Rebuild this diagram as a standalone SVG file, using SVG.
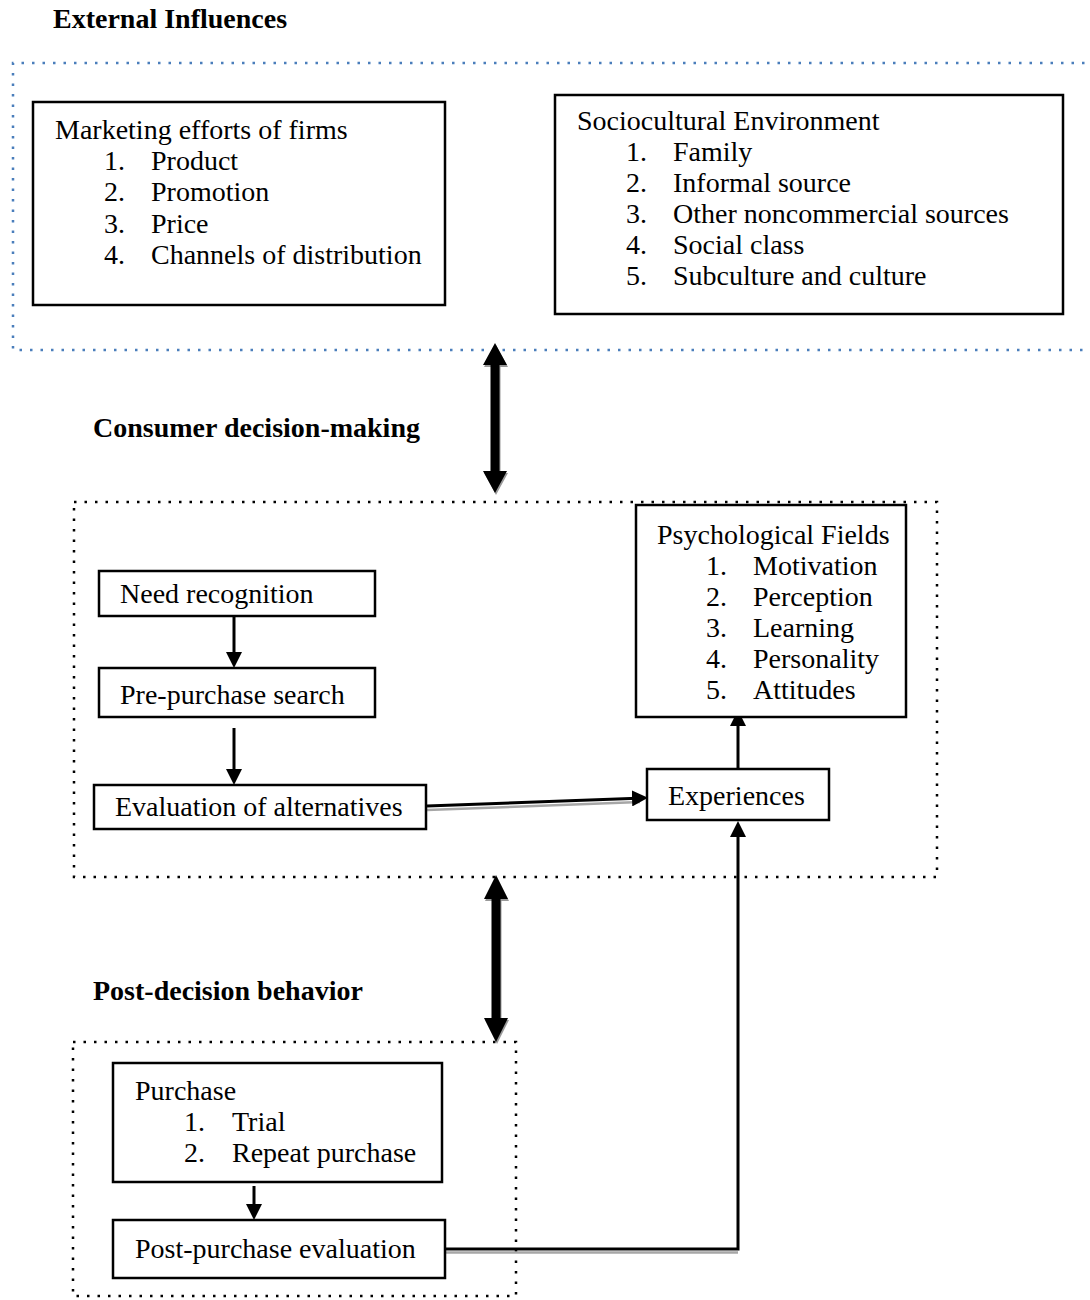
<svg xmlns="http://www.w3.org/2000/svg" width="1090" height="1300" viewBox="0 0 1090 1300">
<defs>
<style>
.t{font-family:"Liberation Serif","Times New Roman",serif;font-size:28px;fill:#000}
.h{font-weight:bold}
.box{fill:#fff;stroke:#000;stroke-width:2.5}
.dot{fill:none;stroke:#000;stroke-width:2.5;stroke-dasharray:2.5 8}
.bdot{fill:none;stroke:#4a7ebb;stroke-width:2.5;stroke-dasharray:2.5 8}
.ln{fill:none;stroke:#000;stroke-width:3}
.sh{fill:none;stroke:#a6a6a6;stroke-width:2.5}
</style>
<marker id="ah" markerUnits="userSpaceOnUse" markerWidth="16" markerHeight="16" viewBox="0 0 16 16" refX="12" refY="8" orient="auto">
<path d="M0,0 L16,8 L0,16 z" fill="#000"/>
</marker>
</defs>
<rect width="1090" height="1300" fill="#fff"/>

<g id="frames">
<path class="bdot" d="M1095,63 H13 V350 H1095"/>
<rect class="dot" x="74" y="502" width="863" height="375"/>
<rect class="dot" x="73" y="1042" width="443" height="254"/>
</g>

<g id="headings">
<text class="t h" x="53" y="28">External Influences</text>
<text class="t h" x="93" y="437">Consumer decision-making</text>
<text class="t h" x="93" y="1000">Post-decision behavior</text>
</g>

<g id="connectors">
<polygon fill="#999" transform="translate(1,2)" points="495,343 507,365 499.5,365 499.5,471 507,471 495,493 483,471 490.5,471 490.5,365 483,365"/>
<polygon fill="#000" points="495,343 507,365 499.5,365 499.5,471 507,471 495,493 483,471 490.5,471 490.5,365 483,365"/>
<polygon fill="#999" transform="translate(1,2)" points="496,875 508,899 500.5,899 500.5,1018 508,1018 496,1042 484,1018 491.5,1018 491.5,899 484,899"/>
<polygon fill="#000" points="496,875 508,899 500.5,899 500.5,1018 508,1018 496,1042 484,1018 491.5,1018 491.5,899 484,899"/>
<line class="ln" x1="234" y1="616" x2="234" y2="664" marker-end="url(#ah)"/>
<line class="ln" x1="234" y1="728" x2="234" y2="781" marker-end="url(#ah)"/>
<line class="sh" x1="427" y1="810" x2="640" y2="802"/>
<line class="ln" x1="427" y1="806" x2="644" y2="798" marker-end="url(#ah)"/>
<line class="ln" x1="738" y1="768" x2="738" y2="714" marker-end="url(#ah)"/>
<line class="ln" x1="254" y1="1186" x2="254" y2="1216" marker-end="url(#ah)"/>
<line class="sh" x1="445" y1="1252.5" x2="738" y2="1252.5"/>
<polyline class="ln" points="445,1249 738,1249 738,825" marker-end="url(#ah)"/>
</g>

<g id="marketing">
<rect class="box" x="33" y="102" width="412" height="203"/>
<text class="t" x="55" y="139">Marketing efforts of firms</text>
<text class="t" x="104" y="170">1.</text><text class="t" x="151" y="170">Product</text>
<text class="t" x="104" y="201">2.</text><text class="t" x="151" y="201">Promotion</text>
<text class="t" x="104" y="233">3.</text><text class="t" x="151" y="233">Price</text>
<text class="t" x="104" y="264">4.</text><text class="t" x="151" y="264">Channels of distribution</text>
</g>

<g id="sociocultural">
<rect class="box" x="555" y="95" width="508" height="219"/>
<text class="t" x="577" y="130">Sociocultural Environment</text>
<text class="t" x="626" y="161">1.</text><text class="t" x="673" y="161">Family</text>
<text class="t" x="626" y="192">2.</text><text class="t" x="673" y="192">Informal source</text>
<text class="t" x="626" y="223">3.</text><text class="t" x="673" y="223">Other noncommercial sources</text>
<text class="t" x="626" y="254">4.</text><text class="t" x="673" y="254">Social class</text>
<text class="t" x="626" y="285">5.</text><text class="t" x="673" y="285">Subculture and culture</text>
</g>

<g id="need">
<rect class="box" x="99" y="571" width="276" height="45"/>
<text class="t" x="120" y="603">Need recognition</text>
</g>
<g id="search">
<rect class="box" x="99" y="668" width="276" height="49"/>
<text class="t" x="120" y="704">Pre-purchase search</text>
</g>
<g id="evaluation">
<rect class="box" x="94" y="785" width="332" height="44"/>
<text class="t" x="115" y="816">Evaluation of alternatives</text>
</g>

<g id="psych">
<rect class="box" x="636" y="505" width="270" height="212"/>
<text class="t" x="657" y="544">Psychological Fields</text>
<text class="t" x="706" y="575">1.</text><text class="t" x="753" y="575">Motivation</text>
<text class="t" x="706" y="606">2.</text><text class="t" x="753" y="606">Perception</text>
<text class="t" x="706" y="637">3.</text><text class="t" x="753" y="637">Learning</text>
<text class="t" x="706" y="668">4.</text><text class="t" x="753" y="668">Personality</text>
<text class="t" x="706" y="699">5.</text><text class="t" x="753" y="699">Attitudes</text>
</g>

<g id="experiences">
<rect class="box" x="647" y="769" width="182" height="51"/>
<text class="t" x="668" y="805">Experiences</text>
</g>

<g id="purchase">
<rect class="box" x="113" y="1063" width="329" height="119"/>
<text class="t" x="135" y="1100">Purchase</text>
<text class="t" x="184" y="1131">1.</text><text class="t" x="232" y="1131">Trial</text>
<text class="t" x="184" y="1162">2.</text><text class="t" x="232" y="1162">Repeat purchase</text>
</g>

<g id="postpurchase">
<rect class="box" x="113" y="1220" width="332" height="58"/>
<text class="t" x="135" y="1258">Post-purchase evaluation</text>
</g>
</svg>
